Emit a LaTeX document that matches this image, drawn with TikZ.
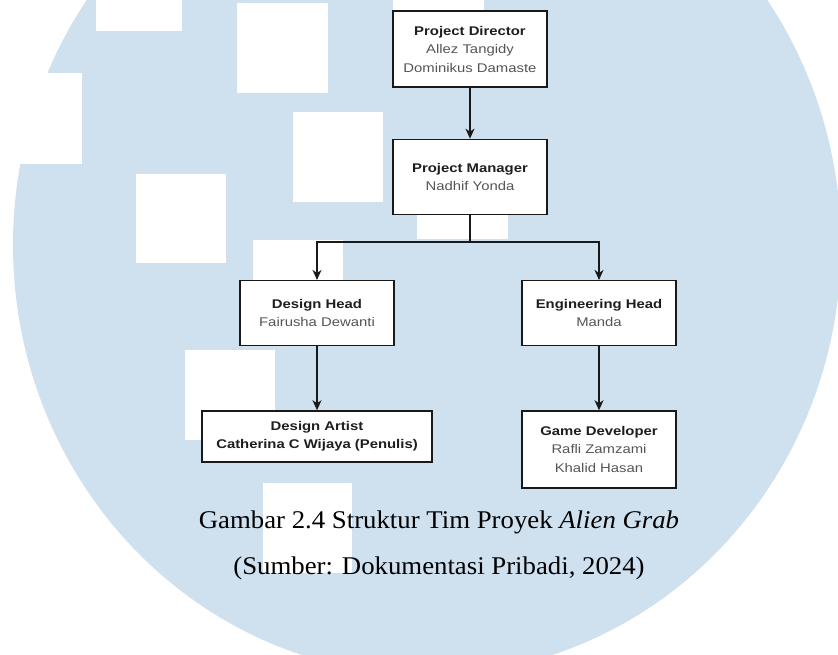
\documentclass[tikz,border=0pt]{standalone}
\usepackage{fontspec}
\setmainfont[FakeStretch=1.05]{Liberation Serif}
\newfontfamily\boxfont[FakeStretch=1.18]{Liberation Sans}
\usepackage{tikz}
\usetikzlibrary{positioning,arrows.meta}

\definecolor{marklight}{RGB}{207,224,239}
\definecolor{namegray}{RGB}{85,85,85}
\definecolor{rolegray}{RGB}{30,30,30}
\newcommand{\role}[1]{\textcolor{rolegray}{\textbf{#1}}}
\newcommand{\person}[1]{\textcolor{namegray}{#1}}

\begin{document}
\begin{tikzpicture}[
  x=1pt,y=-1pt,
  boxes/.style={rectangle,draw=black!90,line width=1.3pt,fill=white,minimum width=154pt,align=center,inner sep=0pt,font=\boxfont\fontsize{12.6}{18.5}\selectfont},
  conn/.style={line width=1.3pt,draw=black!90,-{Stealth[length=10pt,width=9pt,inset=3pt]}},
  notes/.style={font=\fontsize{25.5}{30}\selectfont,inner sep=0pt},
  paper/.style={fill=white},
]
\useasboundingbox (0,0) rectangle (838,655);

% watermark behind the chart
\begin{scope}
\clip (0,0) rectangle (838,655);
\fill[marklight] (427,245) ellipse [x radius=414pt,y radius=430pt];
\fill[paper] (96,-60) rectangle (182,31);
\fill[paper] (237,3) rectangle (328,93);
\fill[paper] (-8,73) rectangle (82,164);
\fill[paper] (293,112) rectangle (383,202);
\fill[paper] (136,174) rectangle (226,263);
\fill[paper] (393,-60) rectangle (484,30);
\fill[paper] (417,149) rectangle (508,239);
\fill[paper] (253,240) rectangle (343,330);
\fill[paper] (185,350) rectangle (275,440);
\fill[paper] (263,483) rectangle (352,573);
\end{scope}

\node (pd) [boxes,minimum height=76pt] at (470,49) {
\role{Project Director}\\
\person{Allez Tangidy}\\
\person{Dominikus Damaste}
};
\node (pm) [boxes,minimum height=75pt,below=51pt of pd] {
\role{Project Manager}\\
\person{Nadhif Yonda}
};
\draw[conn] (pd) -- (pm);

\node (dh) [boxes,minimum height=65pt,below=65pt of pm,xshift=-153pt] {
\role{Design Head}\\
\person{Fairusha Dewanti}
};
\node (eh) [boxes,minimum height=65pt,below=65pt of pm,xshift=129pt] {
\role{Engineering Head}\\
\person{Manda}
};
\coordinate [below=27pt of pm] (fork);
\draw[line width=1.3pt,draw=black!90] (pm) -- (fork);
\draw[conn] (fork) -| (dh.north);
\draw[conn] (fork) -| (eh.north);

\node (da) [boxes,minimum height=51pt,minimum width=230pt,below=64pt of dh] {
\role{Design Artist}\\
\role{Catherina C Wijaya (Penulis)}
};
\node (gd) [boxes,minimum height=77pt,below=64pt of eh] {
\role{Game Developer}\\
\person{Rafli Zamzami}\\
\person{Khalid Hasan}
};
\draw[conn] (dh) -- (da);
\draw[conn] (eh) -- (gd);

\node (capmain) [notes] at (439,522) {Gambar 2.4 Struktur Tim Proyek \textit{Alien Grab}};
\node (capsrc) [notes] at (439,568) {(Sumber: Dokumentasi Pribadi, 2024)};
\end{tikzpicture}
\end{document}
